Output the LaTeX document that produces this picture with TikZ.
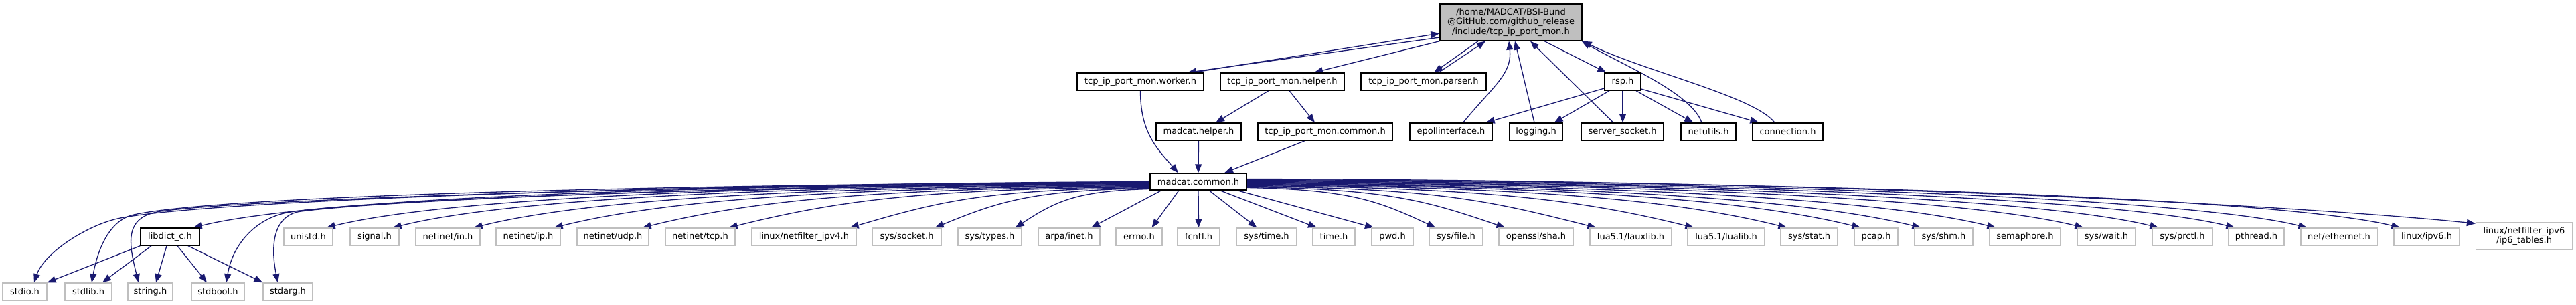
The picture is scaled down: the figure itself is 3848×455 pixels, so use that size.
\documentclass[tikz,border=0pt]{standalone}
\usepackage{fontspec}
\setmainfont{DejaVu Sans}
\usetikzlibrary{arrows.meta,backgrounds}
\definecolor{edgec}{HTML}{191970}
\definecolor{greyb}{HTML}{BFBFBF}
\begin{document}
\begin{tikzpicture}[x=1pt,y=-1pt,
  every node/.style={font=\fontsize{13}{15}\selectfont, inner sep=0pt, minimum height=26pt},
  doc/.style={draw=black, fill=white, line width=1.3pt},
  sys/.style={draw=greyb, fill=white, line width=1.3pt},
  edge/.style={draw=edgec, line width=1.3pt, -{Triangle[length=13pt,width=10pt]}},
]
\useasboundingbox (0,0) rectangle (3848,455);
% ---- top
\node[doc, fill=greyb, minimum width=212pt, minimum height=55pt, align=center,
      font=\fontsize{13}{14.5}\selectfont] (main) at (2257,33.5)
  {/home/MADCAT/BSI-Bund\\@GitHub.com/github\_release\\/include/tcp\_ip\_port\_mon.h};
% ---- row 2
\node[doc, minimum width=189pt] (worker) at (1703.5,122) {tcp\_ip\_port\_mon.worker.h};
\node[doc, minimum width=185pt] (helper) at (1915.5,122) {tcp\_ip\_port\_mon.helper.h};
\node[doc, minimum width=187pt] (parser) at (2126.5,122) {tcp\_ip\_port\_mon.parser.h};
\node[doc, minimum width=54pt] (rsp) at (2424,122) {rsp.h};
% ---- row 3
\node[doc, minimum width=127pt] (mhelper) at (1790.5,197) {madcat.helper.h};
\node[doc, minimum width=201pt] (common) at (1979.5,197) {tcp\_ip\_port\_mon.common.h};
\node[doc, minimum width=123pt] (epoll) at (2167.5,197) {epollinterface.h};
\node[doc, minimum width=79pt] (logging) at (2294.5,197) {logging.h};
\node[doc, minimum width=123pt] (ssock) at (2423.5,197) {server\_socket.h};
\node[doc, minimum width=82pt] (netutils) at (2552,197) {netutils.h};
\node[doc, minimum width=105pt] (conn) at (2670.5,197) {connection.h};
% ---- row 4
\node[doc, minimum width=144pt, minimum height=25pt] (mc) at (1790,271.5) {madcat.common.h};
% ---- row 5
\node[doc, minimum width=88pt] (libdict) at (254,354) {libdict\_c.h};
\node[sys, minimum width=73pt] (unistd) at (460.5,354) {unistd.h};
\node[sys, minimum width=73pt] (signal) at (559.5,354) {signal.h};
\node[sys, minimum width=96pt] (netin) at (669,354) {netinet/in.h};
\node[sys, minimum width=96pt] (netip) at (789,354) {netinet/ip.h};
\node[sys, minimum width=107pt] (netudp) at (915.5,354) {netinet/udp.h};
\node[sys, minimum width=104pt] (nettcp) at (1046,354) {netinet/tcp.h};
\node[sys, minimum width=156pt] (nfipv4) at (1201,354) {linux/netfilter\_ipv4.h};
\node[sys, minimum width=103pt] (syssock) at (1354.5,354) {sys/socket.h};
\node[sys, minimum width=95pt] (systypes) at (1478.5,354) {sys/types.h};
\node[sys, minimum width=92pt] (arpa) at (1597,354) {arpa/inet.h};
\node[sys, minimum width=69pt] (errno) at (1701.5,354) {errno.h};
\node[sys, minimum width=63pt] (fcntl) at (1790.5,354) {fcntl.h};
\node[sys, minimum width=90pt] (systime) at (1892,354) {sys/time.h};
\node[sys, minimum width=63pt] (timeh) at (1992.5,354) {time.h};
\node[sys, minimum width=62pt] (pwd) at (2080,354) {pwd.h};
\node[sys, minimum width=80pt] (sysfile) at (2175,354) {sys/file.h};
\node[sys, minimum width=111pt] (sha) at (2294.5,354) {openssl/sha.h};
\node[sys, minimum width=122pt] (lauxlib) at (2436,354) {lua5.1/lauxlib.h};
\node[sys, minimum width=115pt] (lualib) at (2578.5,354) {lua5.1/lualib.h};
\node[sys, minimum width=85pt] (sysstat) at (2702.5,354) {sys/stat.h};
\node[sys, minimum width=65pt] (pcap) at (2802.5,354) {pcap.h};
\node[sys, minimum width=87pt] (shm) at (2903.5,354) {sys/shm.h};
\node[sys, minimum width=106pt] (sem) at (3025,354) {semaphore.h};
\node[sys, minimum width=87pt] (wait) at (3146.5,354) {sys/wait.h};
\node[sys, minimum width=90pt] (prctl) at (3260,354) {sys/prctl.h};
\node[sys, minimum width=83pt] (pthread) at (3370.5,354) {pthread.h};
\node[sys, minimum width=114pt] (ether) at (3494,354) {net/ethernet.h};
\node[sys, minimum width=98pt] (ipv6) at (3625,354) {linux/ipv6.h};
\node[sys, minimum width=144pt, minimum height=40pt, align=center,
      font=\fontsize{13}{14.5}\selectfont] (ip6) at (3770.5,353) {linux/netfilter\_ipv6\\/ip6\_tables.h};
% ---- bottom row
\node[sys, minimum width=66pt] (stdio) at (37,436) {stdio.h};
\node[sys, minimum width=70pt] (stdlib) at (132,436) {stdlib.h};
\node[sys, minimum width=67pt] (stringh) at (224.5,436) {string.h};
\node[sys, minimum width=79pt] (stdbool) at (325.5,436) {stdbool.h};
\node[sys, minimum width=74pt] (stdarg) at (430,436) {stdarg.h};

\begin{pgfonlayer}{background}
\fill[white] (0,0) rectangle (3848,455);
% main <-> worker
\draw[edge] ([xshift=78.5pt]worker.north) -- ([yshift=-16.5pt]main.west);
\draw[edge] ([yshift=-22.5pt]main.west) -- ([xshift=70.5pt]worker.north);
% main -> helper
\draw[edge] (main.south west) -- ([xshift=47.5pt]helper.north);
% main <-> parser
\draw[edge] ([xshift=-49pt]main.south) -- ([xshift=15.5pt]parser.north);
\draw[edge] ([xshift=22.5pt]parser.north) -- ([xshift=-38pt]main.south);
% main -> rsp
\draw[edge] ([xshift=50pt]main.south) -- ([xshift=3pt]rsp.north west);
% back edges to main
\draw[edge] ([xshift=18pt]epoll.north) .. controls (2230,129) and (2259,111) .. ([xshift=-3pt]main.south);
\draw[edge] ([xshift=-2.5pt]logging.north) -- ([xshift=6pt]main.south);
\draw[edge] ([xshift=-13.5pt]ssock.north) -- ([xshift=29pt]main.south);
\draw[edge] ([xshift=-10pt]netutils.north) .. controls (2527,139) and (2422,96) .. ([xshift=-1pt]main.south east);
\draw[edge] ([xshift=-19.5pt]conn.north) .. controls (2621,144) and (2454,106) .. ([xshift=1pt]main.south east);
% rsp -> row 3
\draw[edge] ([yshift=-10pt]rsp.west) -- ([xshift=-10pt]epoll.north east);
\draw[edge] ([xshift=-20pt]rsp.south) -- ([xshift=-13pt]logging.north east);
\draw[edge] (rsp.south) -- ([xshift=0.5pt]ssock.north);
\draw[edge] ([xshift=20pt]rsp.south) -- ([xshift=19pt]netutils.north west);
\draw[edge] ([yshift=-11pt]rsp.east) -- ([xshift=10pt]conn.north west);
% helper, worker, common
\draw[edge] ([xshift=-20.5pt]helper.south) -- ([xshift=25.5pt]mhelper.north);
\draw[edge] ([xshift=10.5pt]helper.south) -- ([xshift=-15.5pt]common.north);
\draw[edge] (worker.south) .. controls (1703.5,195) and (1725,219) .. ([xshift=-30pt]mc.north);
\draw[edge] (mhelper.south) -- (mc.north);
\draw[edge] ([xshift=-30.5pt]common.south) -- ([xshift=39pt]mc.north);
% mc -> near straight
\draw[edge] ([xshift=-55pt]mc.south) -- ([xshift=33pt]arpa.north);
\draw[edge] ([xshift=-29pt]mc.south) -- ([xshift=19pt]errno.north);
\draw[edge] (mc.south) -- (fcntl.north);
\draw[edge] ([xshift=16pt]mc.south) -- ([xshift=-14.5pt]systime.north);
\draw[edge] ([xshift=32pt]mc.south) -- ([xshift=-25.5pt]timeh.north);
\draw[edge] ([xshift=58pt]mc.south) -- ([xshift=-28pt]pwd.north);
% mc -> left row 5
\foreach \t/\ys/\ax/\ay/\bx/\by in {
  libdict/-2pt/931.5/276.5/448/301, unistd/-3pt/1041/277.5/647/301,
  signal/-4pt/1095/278.5/746/301, netin/-5pt/1162/279.5/867/301,
  netip/-6pt/1228/280.5/987/301, netudp/-7pt/1300.5/281.5/1119/301,
  nettcp/-8pt/1371.5/282.5/1248/301, nfipv4/-9pt/1471/283.5/1404/301,
  syssock/-10pt/1541/284.5/1493/301, systypes/-11pt/1607/285.5/1577/301}{
  \draw[edge] ([yshift=\ys]mc.west) .. controls (\ax,\ay) and (\bx,\by) .. ([xshift=-10pt]\t.north east);
}
% mc -> left bottom row (two segments with a knee)
\draw[edge] (mc.west) .. controls (1100,274) and (327,297.5) .. (180,326)
  .. controls (131,335.5) and (66,378) .. ([xshift=14pt]stdio.north);
\draw[edge] ([yshift=-0.5pt]mc.west) .. controls (1100,275) and (342,290) .. (200,321)
  .. controls (161,329.5) and (145,378) .. ([xshift=5pt]stdlib.north);
\draw[edge] ([yshift=-1pt]mc.west) .. controls (1100,276) and (380,296) .. (240,316)
  .. controls (185,324) and (192,363) .. ([xshift=-17.5pt]stringh.north);
\draw[edge] ([yshift=-1.5pt]mc.west) .. controls (1150,277) and (560,298) .. (434,317)
  .. controls (384.5,324.5) and (348,363) .. ([xshift=12.5pt]stdbool.north);
\draw[edge] ([yshift=-2pt]mc.west) .. controls (1150,277) and (600,297) .. (450,316)
  .. controls (410,321) and (403,363) .. ([xshift=-15pt]stdarg.north);
% mc -> right row 5
\foreach \t/\ys/\ax/\ay/\bx/\by in {
  sysfile/-9pt/2017.6/283.5/2060/301, sha/-8pt/2075/282.5/2133/301,
  lauxlib/-7pt/2149.6/281.5/2228/301, lualib/-6pt/2230/280.5/2371/301,
  sysstat/-5pt/2306/279.5/2510/301, pcap/-4pt/2367/278.5/2620/301,
  shm/-3pt/2416/277.5/2710/301, sem/-2pt/2478/276.5/2822/301,
  wait/-1pt/2550/275.5/2953/301, prctl/0pt/2612/274.5/3065/301,
  pthread/1pt/2674/273.5/3179/301, ether/2pt/2734/272.5/3287/301,
  ipv6/3pt/2810/271.5/3426/301}{
  \draw[edge] ([yshift=\ys]mc.east) .. controls (\ax,\ay) and (\bx,\by) .. ([xshift=10pt]\t.north west);
}
\draw[edge] ([yshift=4pt]mc.east) .. controls (2872,269.5) and (3538,317) .. ([yshift=-2pt]ip6.north west);
% libdict -> bottom row
\draw[edge] (libdict.south west) -- (stdio.north east);
\draw[edge] ([xshift=-28pt]libdict.south) -- ([xshift=21pt]stdlib.north);
\draw[edge] ([xshift=-5pt]libdict.south) -- ([xshift=8.5pt]stringh.north);
\draw[edge] ([xshift=11pt]libdict.south) -- ([xshift=-16.5pt]stdbool.north);
\draw[edge] ([xshift=27pt]libdict.south) -- (stdarg.north west);
\end{pgfonlayer}
\end{tikzpicture}
\end{document}
